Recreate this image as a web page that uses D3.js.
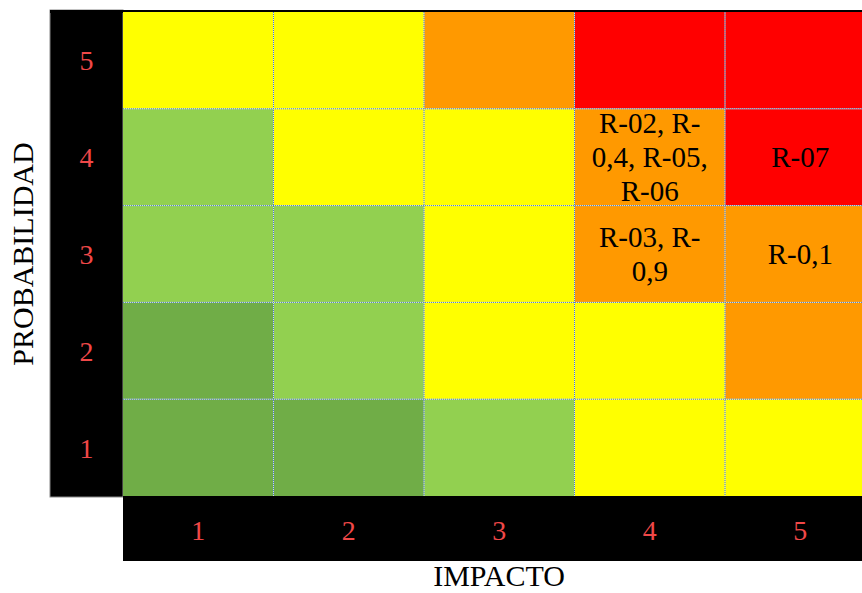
<!DOCTYPE html>
<html>
<head>
<meta charset="utf-8">
<script src="https://cdn.jsdelivr.net/npm/d3@7"></script>
<style>
html,body{margin:0;padding:0;background:#fff;}
svg{display:block;}
</style>
</head>
<body>
<svg id="chart" width="862" height="593"></svg>
<script>
// ---- data ----
const impacto = [1, 2, 3, 4, 5];
const probabilidad = [5, 4, 3, 2, 1];
// risk level per row (probabilidad 5 -> 1), columns impacto 1 -> 5
const nivel5 = ["M", "M", "A", "E", "E"];
const nivel4 = ["B", "M", "M", "A", "E"];
const nivel3 = ["B", "B", "M", "A", "A"];
const nivel2 = ["MB", "B", "M", "M", "A"];
const nivel1 = ["MB", "MB", "B", "M", "M"];
// risk labels in cells
const riesgos = [
  { impacto: 4, prob: 4, lines: ["R-02, R-", "0,4, R-05,", "R-06"] },
  { impacto: 5, prob: 4, lines: ["R-07"] },
  { impacto: 4, prob: 3, lines: ["R-03, R-", "0,9"] },
  { impacto: 5, prob: 3, lines: ["R-0,1"] }
];
const ejeX = "IMPACTO";
const ejeY = "PROBABILIDAD";

const niveles = { 5: nivel5, 4: nivel4, 3: nivel3, 2: nivel2, 1: nivel1 };
const color = d3.scaleOrdinal()
  .domain(["MB", "B", "M", "A", "E"])
  .range(["#70AD47", "#92D050", "#FFFF00", "#FF9900", "#FF0000"]);

const cells = [];
probabilidad.forEach(p => impacto.forEach((i, k) => cells.push({ p, i, n: niveles[p][k] })));

const FONT = "Liberation Serif, Times New Roman, serif";
const svg = d3.select("#chart");
const x = d3.scaleBand().domain(impacto).range([123, 875.5]).padding(0);
const y = d3.scaleBand().domain(probabilidad).range([12, 496]).padding(0);

// left black band
svg.append("rect").attr("x", 50).attr("y", 10).attr("width", 73).attr("height", 487)
  .attr("fill", "#000").attr("stroke", "#888").attr("stroke-width", 1);
// top strip
svg.append("rect").attr("x", 50).attr("y", 10).attr("width", 812).attr("height", 3).attr("fill", "#000");
// bottom black band
svg.append("rect").attr("x", 123).attr("y", 496).attr("width", 739).attr("height", 65).attr("fill", "#000");

// cells
svg.append("g").selectAll("rect").data(cells).join("rect")
  .attr("x", d => x(d.i)).attr("y", d => y(d.p))
  .attr("width", x.bandwidth()).attr("height", y.bandwidth())
  .attr("fill", d => color(d.n));

// dotted grid lines (light base + blue dots)
function gridLines(g) {
  impacto.slice(1).forEach(i => g.append("line")
    .attr("x1", x(i)).attr("x2", x(i)).attr("y1", 12).attr("y2", 496));
  probabilidad.slice(1).forEach(p => g.append("line")
    .attr("x1", 123).attr("x2", 862).attr("y1", y(p)).attr("y2", y(p)));
}
gridLines(svg.append("g").attr("stroke", "#dfe8f3").attr("stroke-width", 1).attr("opacity", 0.8));
gridLines(svg.append("g").attr("stroke", "#4a7fc0").attr("stroke-width", 1).attr("stroke-dasharray", "1,1"));

// axis tick labels
svg.append("g").selectAll("text").data(probabilidad).join("text")
  .attr("x", 86.5).attr("y", d => y(d) + y.bandwidth() / 2 + 10)
  .attr("text-anchor", "middle").attr("font-family", FONT)
  .attr("font-size", 28).attr("fill", "#F04848").text(d => d);
svg.append("g").selectAll("text").data(impacto).join("text")
  .attr("x", d => x(d) + x.bandwidth() / 2).attr("y", 540)
  .attr("text-anchor", "middle").attr("font-family", FONT)
  .attr("font-size", 28).attr("fill", "#F04848").text(d => d);

// axis titles
svg.append("text").attr("x", 499).attr("y", 586).attr("text-anchor", "middle")
  .attr("font-family", FONT).attr("font-size", 30)
  .attr("fill", "#000").text(ejeX);
svg.append("text").attr("transform", "translate(33,254) rotate(-90)").attr("text-anchor", "middle")
  .attr("font-family", FONT).attr("font-size", 30)
  .attr("fill", "#000").text(ejeY);

// risk labels
const lh = 34;
const rg = svg.append("g").attr("font-family", FONT)
  .attr("font-size", 29).attr("fill", "#000").attr("text-anchor", "middle");
riesgos.forEach(r => {
  const cx = x(r.impacto) + x.bandwidth() / 2;
  const cy = y(r.prob) + y.bandwidth() / 2;
  const n = r.lines.length;
  r.lines.forEach((t, k) => {
    rg.append("text").attr("x", cx).attr("y", cy + (k - (n - 1) / 2) * lh + 10).text(t);
  });
});
</script>
</body>
</html>
